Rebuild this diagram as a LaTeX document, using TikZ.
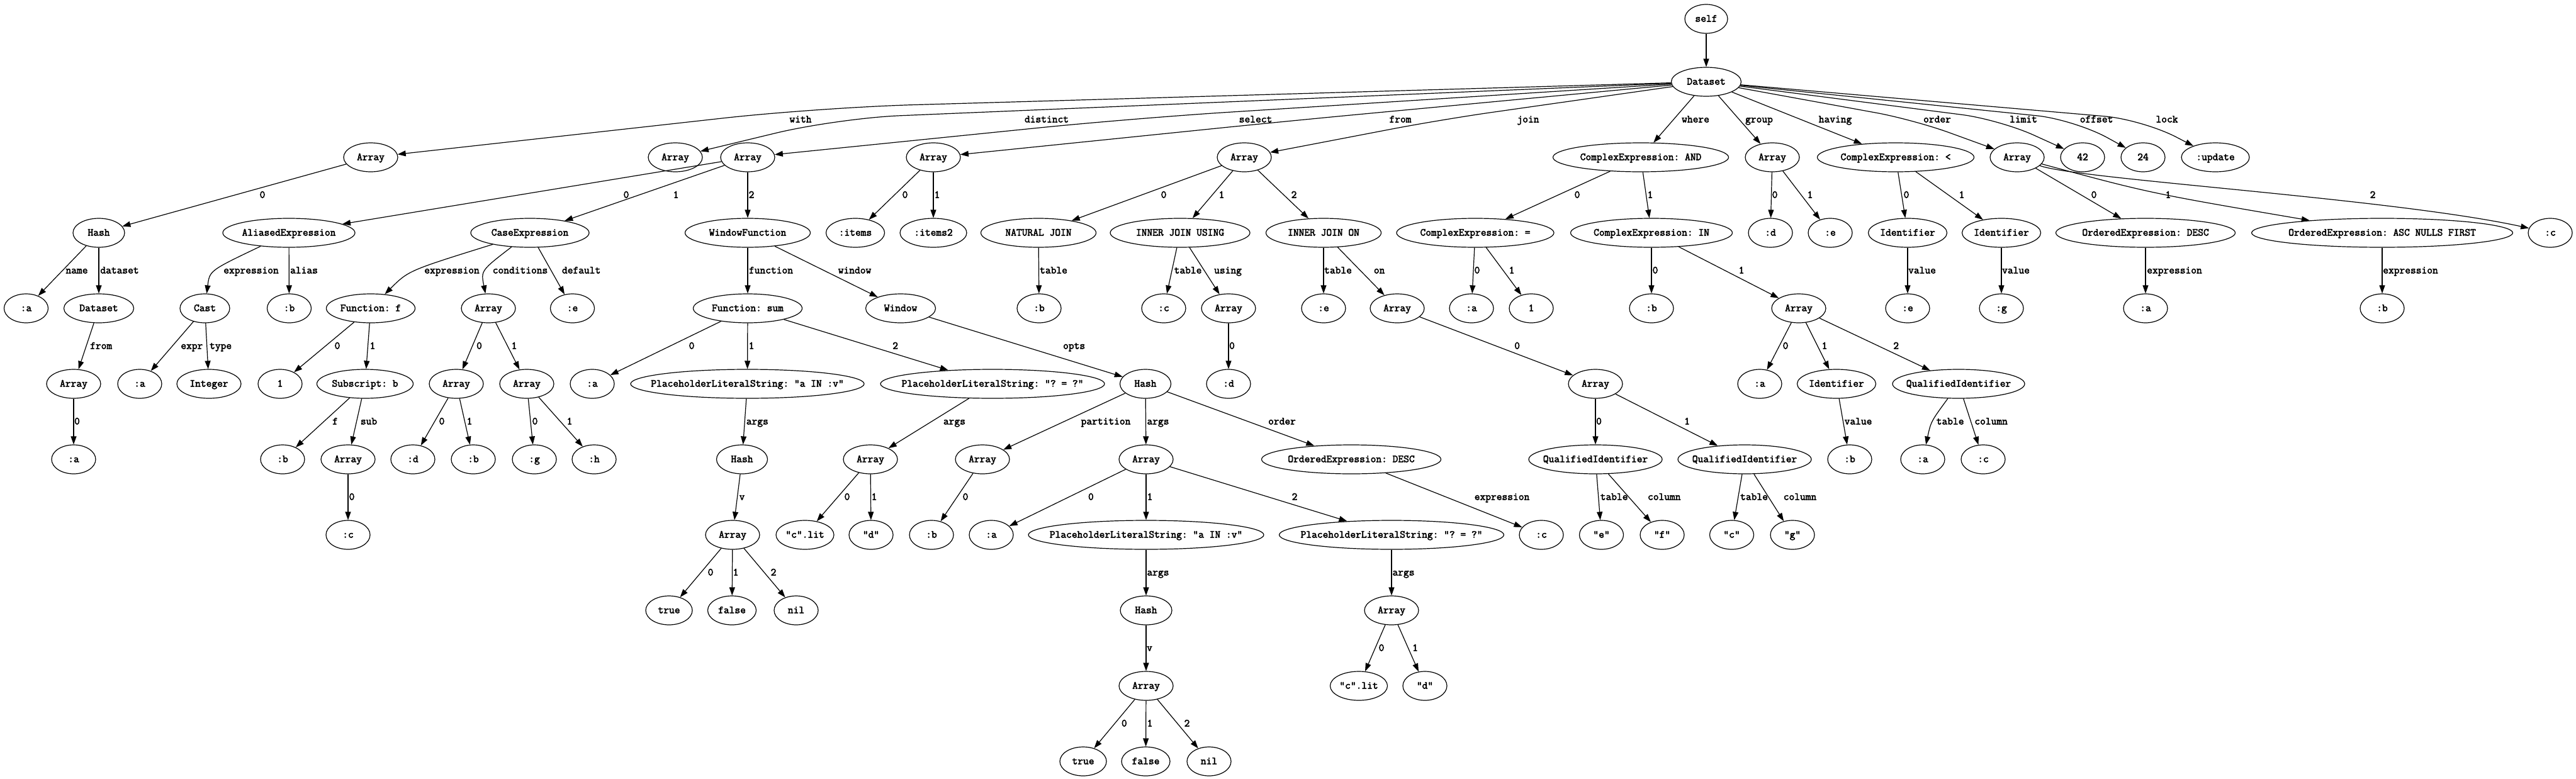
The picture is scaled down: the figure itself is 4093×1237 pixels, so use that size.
\documentclass[tikz,border=0pt]{standalone}
\usepackage{fontspec}
\setmonofont{Latin Modern Mono}[FakeBold=3]
\usetikzlibrary{shapes.geometric,arrows.meta}
\tikzset{
 nd/.style={draw, ellipse, line width=1.2pt, inner sep=0pt, minimum height=46pt, minimum width=#1,
   font=\ttfamily\fontsize{17pt}{20pt}\selectfont, text height=12pt, text depth=3pt},
 lbl/.style={inner sep=0pt, font=\ttfamily\fontsize{17pt}{20pt}\selectfont, text height=12pt, text depth=3pt},
 conn/.style={line width=1.2pt, -{Triangle[length=13pt,width=9pt]}},
}
\newcommand\mkn[5]{\node[nd=#5] (#1) at (#2,#3) {\makebox[0pt]{#4}};}
\newcommand\mkl[4]{\node[lbl] (#1) at (#2,#3) {#4};}
\newcommand\mke[2]{\draw[conn] (#1) -- (#2);}
\begin{document}
\begin{tikzpicture}[x=1pt,y=-1pt]
\fill[white] (0,0) rectangle (4093,1237);
\useasboundingbox (0,0) rectangle (4093,1237);
% ---------------- nodes ----------------
\mkn{self}{2711}{30}{self}{68}
\mkn{ds}{2711}{130}{Dataset}{111}
% L2
\mkn{aWith}{589}{250}{Array}{86}
\mkn{aDist}{1073}{250}{Array}{86}
\mkn{aSel}{1188}{250}{Array}{86}
\mkn{aFrom}{1483}{250}{Array}{86}
\mkn{aJoin}{1977}{250}{Array}{86}
\mkn{ceAnd}{2607}{250}{ComplexExpression: AND}{279}
\mkn{aGroup}{2816}{250}{Array}{86}
\mkn{ceLt}{3012}{250}{ComplexExpression: <}{249}
\mkn{aOrder}{3205}{250}{Array}{86}
\mkn{nFortyTwo}{3309}{250}{42}{70}
\mkn{nTwentyFour}{3405}{250}{24}{70}
\mkn{upd}{3520}{250}{:update}{108}
% L3
\mkn{hashA}{157}{370}{Hash}{82}
\mkn{alias}{459}{370}{AliasedExpression}{210}
\mkn{caseE}{842}{370}{CaseExpression}{188}
\mkn{wf}{1188}{370}{WindowFunction}{199}
\mkn{items}{1359}{370}{:items}{93}
\mkn{itemsTwo}{1483}{370}{:items2}{106}
\mkn{nj}{1650}{370}{NATURAL JOIN}{183}
\mkn{iju}{1875}{370}{INNER JOIN USING}{222}
\mkn{ijo}{2103}{370}{INNER JOIN ON}{183}
\mkn{ceEq}{2344}{370}{ComplexExpression: =}{250}
\mkn{ceIn}{2624}{370}{ComplexExpression: IN}{257}
\mkn{gD}{2813}{370}{:d}{70}
\mkn{gE}{2908}{370}{:e}{70}
\mkn{idOne}{3031}{370}{Identifier}{125}
\mkn{idTwo}{3180}{370}{Identifier}{125}
\mkn{oeOne}{3409}{370}{OrderedExpression: DESC}{285}
\mkn{oeTwo}{3785}{370}{OrderedExpression: ASC NULLS FIRST}{415}
\mkn{oC}{4052}{370}{:c}{70}
% L4
\mkn{hA}{41.5}{490}{:a}{70}
\mkn{dsTwo}{157}{490}{Dataset}{111}
\mkn{cast}{325.5}{490}{Cast}{79}
\mkn{alB}{459.5}{490}{:b}{70}
\mkn{ff}{589}{490}{Function: f}{141}
\mkn{cArr}{776}{490}{Array}{86}
\mkn{cE}{909.5}{490}{:e}{70}
\mkn{fsum}{1188}{490}{Function: sum}{173}
\mkn{win}{1431}{490}{Window}{111}
\mkn{njB}{1651}{490}{:b}{70}
\mkn{ijuC}{1849}{490}{:c}{70}
\mkn{ijuArr}{1952}{490}{Array}{86}
\mkn{ijoE}{2103}{490}{:e}{70}
\mkn{ijoArr}{2220}{490}{Array}{86}
\mkn{eqA}{2338}{490}{:a}{70}
\mkn{eqOne}{2433}{490}{1}{70}
\mkn{inB}{2624}{490}{:b}{70}
\mkn{inArr}{2858}{490}{Array}{86}
\mkn{idOneE}{3031}{490}{:e}{70}
\mkn{idTwoG}{3180}{490}{:g}{70}
\mkn{oeOneA}{3409}{490}{:a}{70}
\mkn{oeTwoB}{3785}{490}{:b}{70}
% L5
\mkn{dsTwoArr}{117}{610}{Array}{86}
\mkn{castA}{222}{610}{:a}{70}
\mkn{castInt}{332}{610}{Integer}{102}
\mkn{ffOne}{445}{610}{1}{70}
\mkn{sub}{580}{610}{Subscript: b}{153}
\mkn{cAZero}{725}{610}{Array}{86}
\mkn{cAOne}{837}{610}{Array}{86}
\mkn{fsA}{941}{610}{:a}{70}
\mkn{plsOne}{1187.5}{610}{PlaceholderLiteralString: "a IN :v"}{371}
\mkn{plsTwo}{1577}{610}{PlaceholderLiteralString: "? = ?"}{356}
\mkn{wh}{1820}{610}{Hash}{81}
\mkn{ijuD}{1952}{610}{:d}{70}
\mkn{ijoArrTwo}{2535}{610}{Array}{86}
\mkn{inA}{2796}{610}{:a}{70}
\mkn{inId}{2918}{610}{Identifier}{125}
\mkn{inQi}{3112}{610}{QualifiedIdentifier}{210}
% L6
\mkn{dsTwoA}{117}{730}{:a}{70}
\mkn{subB}{449}{730}{:b}{70}
\mkn{subArr}{553}{730}{Array}{86}
\mkn{cZeroD}{656}{730}{:d}{70}
\mkn{cZeroB}{752}{730}{:b}{70}
\mkn{cOneG}{849}{730}{:g}{70}
\mkn{cOneH}{944}{730}{:h}{70}
\mkn{pOneH}{1179}{730}{Hash}{81}
\mkn{pTwoArr}{1383}{730}{Array}{86}
\mkn{whPart}{1561}{730}{Array}{86}
\mkn{whArgs}{1821}{730}{Array}{86}
\mkn{whOrder}{2147}{730}{OrderedExpression: DESC}{285}
\mkn{qiOne}{2535}{730}{QualifiedIdentifier}{212}
\mkn{qiTwo}{2772}{730}{QualifiedIdentifier}{212}
\mkn{idB}{2939}{730}{:b}{70}
\mkn{qiA}{3055}{730}{:a}{70}
\mkn{qiC}{3151}{730}{:c}{70}
% L7
\mkn{subC}{553}{850}{:c}{70}
\mkn{pOneArr}{1164}{850}{Array}{86}
\mkn{pTwoC}{1279}{850}{"c".lit}{92}
\mkn{pTwoD}{1384}{850}{"d"}{70}
\mkn{partB}{1480}{850}{:b}{70}
\mkn{argsA}{1575}{850}{:a}{70}
\mkn{argsPOne}{1821}{850}{PlaceholderLiteralString: "a IN :v"}{374}
\mkn{argsPTwo}{2211}{850}{PlaceholderLiteralString: "? = ?"}{357}
\mkn{woC}{2449}{850}{:c}{70}
\mkn{qOneE}{2544.5}{850}{"e"}{70}
\mkn{qOneF}{2641}{850}{"f"}{70}
\mkn{qTwoC}{2751.5}{850}{"c"}{70}
\mkn{qTwoG}{2848}{850}{"g"}{70}
% L8
\mkn{tOne}{1063}{970}{true}{74}
\mkn{fOne}{1163}{970}{false}{77}
\mkn{nlOne}{1265}{970}{nil}{70}
\mkn{apOneH}{1821}{970}{Hash}{82}
\mkn{apTwoArr}{2211}{970}{Array}{86}
% L9
\mkn{apOneArr}{1821}{1090}{Array}{86}
\mkn{apTwoC}{2159}{1090}{"c".lit}{91}
\mkn{apTwoD}{2264}{1090}{"d"}{70}
% L10
\mkn{tTwo}{1721}{1210}{true}{74}
\mkn{fTwo}{1820.5}{1210}{false}{77}
\mkn{nlTwo}{1921}{1210}{nil}{70}
% ---------------- edges ----------------
\mke{self}{ds}
\draw[conn,rounded corners=150pt] (ds) -- (1300,171) -- (aWith);
\draw[conn,rounded corners=100pt] (ds) -- (1330,188) -- (aDist);
\draw[conn,rounded corners=150pt] (ds) -- (1800,188) -- (aSel);
\draw[conn,rounded corners=120pt] (ds) -- (2050,192) -- (aFrom);
\draw[conn,rounded corners=80pt] (ds) -- (2290,190) -- (aJoin);
\mke{ds}{ceAnd}
\mke{ds}{aGroup}
\mke{ds}{ceLt}
\draw[conn,rounded corners=60pt] (ds) -- (3040,190) -- (aOrder);
\draw[conn,rounded corners=60pt] (ds) -- (3177,190) -- (nFortyTwo);
\draw[conn,rounded corners=60pt] (ds) -- (3296,190) -- (nTwentyFour);
\draw[conn,rounded corners=60pt] (ds) -- (3404,190) -- (upd);
% L2 -> L3
\mke{aWith}{hashA}
\mke{aSel}{alias}
\mke{aSel}{caseE}
\mke{aSel}{wf}
\mke{aFrom}{items}
\mke{aFrom}{itemsTwo}
\mke{aJoin}{nj}
\mke{aJoin}{iju}
\mke{aJoin}{ijo}
\mke{ceAnd}{ceEq}
\mke{ceAnd}{ceIn}
\mke{aGroup}{gD}
\mke{aGroup}{gE}
\mke{ceLt}{idOne}
\mke{ceLt}{idTwo}
\mke{aOrder}{oeOne}
\draw[conn] (aOrder) .. controls (3416,307) .. (oeTwo);
\draw[conn] (aOrder) .. controls (3300,285) and (3800,315) .. (oC);
% L3 -> L4
\mke{hashA}{hA}
\mke{hashA}{dsTwo}
\draw[conn] (alias) .. controls (333,430) .. (cast);
\mke{alias}{alB}
\draw[conn] (caseE) .. controls (649,430) .. (ff);
\draw[conn] (caseE) .. controls (764,430) .. (cArr);
\mke{caseE}{cE}
\mke{wf}{fsum}
\mke{wf}{win}
\mke{nj}{njB}
\mke{iju}{ijuC}
\mke{iju}{ijuArr}
\mke{ijo}{ijoE}
\mke{ijo}{ijoArr}
\mke{ceEq}{eqA}
\mke{ceEq}{eqOne}
\mke{ceIn}{inB}
\mke{ceIn}{inArr}
\mke{idOne}{idOneE}
\mke{idTwo}{idTwoG}
\mke{oeOne}{oeOneA}
\mke{oeTwo}{oeTwoB}
% L4 -> L5
\mke{dsTwo}{dsTwoArr}
\mke{cast}{castA}
\mke{cast}{castInt}
\mke{ff}{ffOne}
\mke{ff}{sub}
\mke{cArr}{cAZero}
\mke{cArr}{cAOne}
\mke{fsum}{fsA}
\mke{fsum}{plsOne}
\mke{fsum}{plsTwo}
\mke{win}{wh}
\mke{ijuArr}{ijuD}
\mke{ijoArr}{ijoArrTwo}
\mke{inArr}{inA}
\mke{inArr}{inId}
\mke{inArr}{inQi}
% L5 -> L6
\mke{dsTwoArr}{dsTwoA}
\mke{sub}{subB}
\mke{sub}{subArr}
\mke{cAZero}{cZeroD}
\mke{cAZero}{cZeroB}
\mke{cAOne}{cOneG}
\mke{cAOne}{cOneH}
\mke{plsOne}{pOneH}
\mke{plsTwo}{pTwoArr}
\mke{wh}{whPart}
\mke{wh}{whArgs}
\mke{wh}{whOrder}
\mke{ijoArrTwo}{qiOne}
\mke{ijoArrTwo}{qiTwo}
\mke{inId}{idB}
\draw[conn] (inQi) .. controls (3068,670) .. (qiA);
\mke{inQi}{qiC}
% L6 -> L7
\mke{subArr}{subC}
\mke{pOneH}{pOneArr}
\mke{pTwoArr}{pTwoC}
\mke{pTwoArr}{pTwoD}
\mke{whPart}{partB}
\mke{whArgs}{argsA}
\mke{whArgs}{argsPOne}
\mke{whArgs}{argsPTwo}
\mke{whOrder}{woC}
\mke{qiOne}{qOneE}
\mke{qiOne}{qOneF}
\mke{qiTwo}{qTwoC}
\mke{qiTwo}{qTwoG}
% L7 -> L8
\mke{pOneArr}{tOne}
\mke{pOneArr}{fOne}
\mke{pOneArr}{nlOne}
\mke{argsPOne}{apOneH}
\mke{argsPTwo}{apTwoArr}
% L8 -> L9
\mke{apOneH}{apOneArr}
\mke{apTwoArr}{apTwoC}
\mke{apTwoArr}{apTwoD}
% L9 -> L10
\mke{apOneArr}{tTwo}
\mke{apOneArr}{fTwo}
\mke{apOneArr}{nlTwo}
% ---------------- edge labels ----------------
\mkl{lWith}{1272}{190}{with}
\mkl{lDistinct}{1663}{190}{distinct}
\mkl{lSelect}{1995}{190}{select}
\mkl{lFrom}{2225}{190}{from}
\mkl{lJoin}{2428}{190}{join}
\mkl{lWhere}{2694}{190}{where}
\mkl{lGroup}{2795}{190}{group}
\mkl{lHaving}{2916}{190}{having}
\mkl{lOrder}{3078}{190}{order}
\mkl{lLimit}{3215}{190}{limit}
\mkl{lOffset}{3331}{190}{offset}
\mkl{lLock}{3443}{190}{lock}
% row 310
\mkl{la1}{417}{310}{0}
\mkl{la2}{995}{310}{0}
\mkl{la3}{1074}{310}{1}
\mkl{la4}{1194}{310}{2}
\mkl{la5}{1438}{310}{0}
\mkl{la6}{1489}{310}{1}
\mkl{la7}{1849}{310}{0}
\mkl{la8}{1941}{310}{1}
\mkl{la9}{2056}{310}{2}
\mkl{la10}{2506}{310}{0}
\mkl{la11}{2622}{310}{1}
\mkl{la12}{2820}{310}{0}
\mkl{la13}{2876}{310}{1}
\mkl{la14}{3029}{310}{0}
\mkl{la15}{3117}{310}{1}
\mkl{la16}{3327}{310}{0}
\mkl{la17}{3445}{310}{1}
\mkl{la18}{3770}{310}{2}
% row 430
\mkl{lb1}{122}{430}{name}
\mkl{lb2}{190}{430}{dataset}
\mkl{lb3}{399}{430}{expression}
\mkl{lb4}{483}{430}{alias}
\mkl{lb5}{718}{430}{expression}
\mkl{lb6}{826.5}{430}{conditions}
\mkl{lb7}{923.6}{430}{default}
\mkl{lb8}{1225}{430}{function}
\mkl{lb9}{1358}{430}{window}
\mkl{lb10}{1674}{430}{table}
\mkl{lb11}{1887.5}{430}{table}
\mkl{lb12}{1951}{430}{using}
\mkl{lb13}{2126}{430}{table}
\mkl{lb14}{2191.6}{430}{on}
\mkl{lb15}{2347}{430}{0}
\mkl{lb16}{2402}{430}{1}
\mkl{lb17}{2630}{430}{0}
\mkl{lb18}{2767}{430}{1}
\mkl{lb19}{3054}{430}{value}
\mkl{lb20}{3203}{430}{value}
\mkl{lb21}{3455}{430}{expression}
\mkl{lb22}{3830}{430}{expression}
% row 550
\mkl{lc1}{160.7}{550}{from}
\mkl{lc2}{304.8}{550}{expr}
\mkl{lc3}{350.6}{550}{type}
\mkl{lc4}{536}{550}{0}
\mkl{lc5}{592}{550}{1}
\mkl{lc6}{761.5}{550}{0}
\mkl{lc7}{817}{550}{1}
\mkl{lc8}{1099}{550}{0}
\mkl{lc9}{1194}{550}{1}
\mkl{lc10}{1422.6}{550}{2}
\mkl{lc11}{1706.6}{550}{opts}
\mkl{lc12}{1957.5}{550}{0}
\mkl{lc13}{2410.6}{550}{0}
\mkl{lc14}{2837}{550}{0}
\mkl{lc15}{2899}{550}{1}
\mkl{lc16}{3012.7}{550}{2}
% row 670
\mkl{ld1}{122.5}{670}{0}
\mkl{ld2}{532.5}{670}{f}
\mkl{ld3}{586}{670}{sub}
\mkl{ld4}{702}{670}{0}
\mkl{ld5}{746}{670}{1}
\mkl{ld6}{850}{670}{0}
\mkl{ld7}{905}{670}{1}
\mkl{ld8}{1203.3}{670}{args}
\mkl{ld9}{1516.4}{670}{args}
\mkl{ld10}{1757}{670}{partition}
\mkl{ld11}{1840}{670}{args}
\mkl{ld12}{2037}{670}{order}
\mkl{ld13}{2540.5}{670}{0}
\mkl{ld14}{2680.5}{670}{1}
\mkl{ld15}{2952.5}{670}{value}
\mkl{ld16}{3098.6}{670}{table}
\mkl{ld17}{3163.6}{670}{column}
% row 790
\mkl{le1}{559}{790}{0}
\mkl{le2}{1179}{790}{v}
\mkl{le3}{1346}{790}{0}
\mkl{le4}{1389}{790}{1}
\mkl{le5}{1534}{790}{0}
\mkl{le6}{1733.4}{790}{0}
\mkl{le7}{1827}{790}{1}
\mkl{le8}{2057}{790}{2}
\mkl{le9}{2386.5}{790}{expression}
\mkl{le10}{2564.6}{790}{table}
\mkl{le11}{2644.3}{790}{column}
\mkl{le12}{2787}{790}{table}
\mkl{le13}{2860}{790}{column}
% row 910
\mkl{lf1}{1129}{910}{0}
\mkl{lf2}{1169}{910}{1}
\mkl{lf3}{1229}{910}{2}
\mkl{lf4}{1840}{910}{args}
\mkl{lf5}{2230}{910}{args}
% row 1030
\mkl{lg1}{1826.5}{1030}{v}
\mkl{lg2}{2195}{1030}{0}
\mkl{lg3}{2248.5}{1030}{1}
% row 1150
\mkl{lh1}{1786.3}{1150}{0}
\mkl{lh2}{1827}{1150}{1}
\mkl{lh3}{1886}{1150}{2}
\end{tikzpicture}
\end{document}
